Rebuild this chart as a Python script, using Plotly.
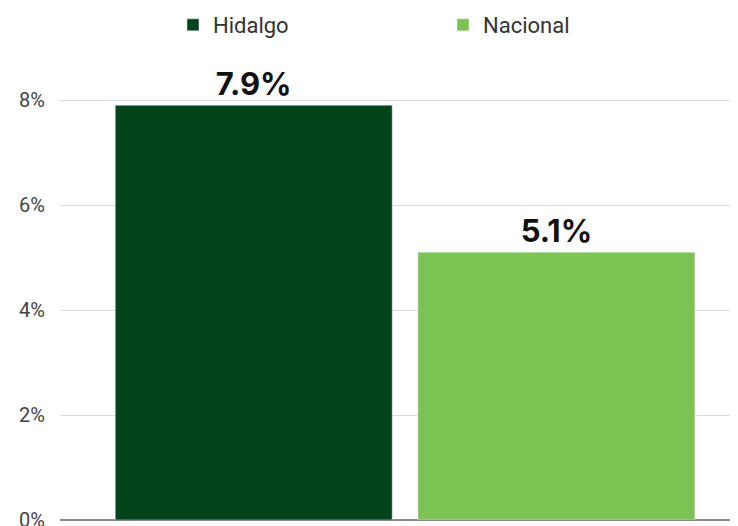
import plotly.graph_objects as go

series = ["Hidalgo", "Nacional"]
values = [7.9, 5.1]
colors = ["#03441B", "#7DC353"]
y_ticks = [0, 2, 4, 6, 8]
y_tick_labels = ["0%", "2%", "4%", "6%", "8%"]

fig = go.Figure()
for name, v, c in zip(series, values, colors):
    fig.add_trace(go.Bar(
        x=[name], y=[v], name=name, marker_color=c, width=0.915,
        text=[f"{v:.1f}%"], textposition="outside", cliponaxis=False,
        textfont=dict(family="Inter", size=31, color="#111111", weight="bold"),
    ))

fig.update_layout(
    width=738, height=526,
    margin=dict(l=52, r=8, t=72, b=14, autoexpand=False),
    paper_bgcolor="white", plot_bgcolor="white",
    barmode="overlay",
    showlegend=True,
    legend=dict(orientation="h", x=165 / 738, xref="container", xanchor="left",
                y=1 + 55 / 440, yref="paper", yanchor="middle",
                entrywidth=225, entrywidthmode="pixels",
                font=dict(family="Roboto", size=22, color="#333333"),
                itemclick=False),
    xaxis=dict(showticklabels=False, showgrid=False, range=[-0.64, 1.6],
               zeroline=False, showline=False, automargin=False),
    yaxis=dict(range=[0, 440 / 52.5], tickvals=y_ticks, ticktext=y_tick_labels,
               showgrid=True, gridcolor="#DCDCDC", gridwidth=1,
               zeroline=True, zerolinecolor="#8A8A8A", zerolinewidth=2,
               ticks="", ticklabelstandoff=14, automargin=False,
               tickfont=dict(family="Roboto", size=20, color="#444444")),
)

fig.write_html("out.html")
